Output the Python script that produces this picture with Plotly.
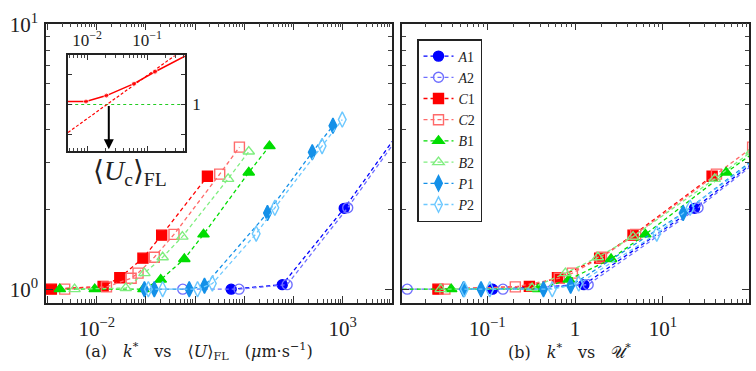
import plotly.graph_objects as go

# ---------------- data ----------------
# left panel x: <U>_FL (um/s); right panel x: U* ; y: k*
a1_u = [5.4, 59, 1070, 35500]
a1_us = [0.115, 1.26, 22.9, 759]
a1_k = [1.0, 1.04, 2.02, 5.0]

a2_u = [0.56, 7.8, 74, 1260, 40000]
a2_us = [0.0123, 0.151, 1.41, 25.1, 794]
a2_k = [1.0, 1.0, 1.04, 2.03, 5.0]

c1_u = [0.0012, 0.0135, 0.0295, 0.087, 0.209, 1.78]
c1_us = [0.0275, 0.302, 0.631, 1.905, 4.57, 36.3]
c1_k = [1.0, 1.025, 1.105, 1.31, 1.60, 2.67]

c2_u = [0.00224, 0.0158, 0.0501, 0.0692, 0.148, 0.372, 3.16, 7.94]
c2_us = [0.033, 0.209, 0.661, 0.933, 2.0, 4.9, 40.7, 105]
c2_k = [1.0, 1.02, 1.10, 1.15, 1.32, 1.61, 2.72, 3.44]

b1_u = [0.00178, 0.00912, 0.0891, 0.2, 0.603, 1.48, 12.3, 32.4]
b1_us = [0.00759, 0.0389, 0.38, 0.851, 2.57, 6.31, 52.5, 138]
b1_k = [1.0, 1.0, 1.0, 1.087, 1.30, 1.61, 2.76, 3.47]

b2_u = [0.00355, 0.0389, 0.0933, 0.219, 0.55, 4.68, 12.3]
b2_us = [0.0295, 0.324, 0.776, 1.82, 4.57, 38.9, 102]
b2_k = [1.0, 1.01, 1.15, 1.32, 1.58, 2.61, 3.31]

p1_u = [0.0933, 0.148, 0.759, 1.55, 29.5, 240, 631]
p1_us = [0.0537, 0.0851, 0.437, 0.891, 17.0, 138, 363]
p1_k = [1.0, 1.0, 1.0, 1.03, 1.94, 3.29, 4.14]

p2_u = [0.112, 0.219, 1.12, 2.24, 17.4, 41.7, 380, 977]
p2_us = [0.055, 0.107, 0.55, 1.10, 8.51, 20.4, 186, 479]
p2_k = [1.0, 1.0, 1.0, 1.05, 1.62, 2.03, 3.47, 4.37]

# inset
inset_u = [0.00316, 0.00955, 0.0209, 0.0603, 0.135, 0.631]
inset_k = [1.01, 1.01, 1.03, 1.07, 1.11, 1.18]
inset_fit_u = [0.00479, 0.427]
inset_fit_k = [0.906, 1.189]
inset_ref_u = [0.001, 1.0]
inset_ref_k = [1.0, 1.0]

names = ["A1", "A2", "C1", "C2", "B1", "B2", "P1", "P2"]
labels = ["<i>A</i>1", "<i>A</i>2", "<i>C</i>1", "<i>C</i>2",
          "<i>B</i>1", "<i>B</i>2", "<i>P</i>1", "<i>P</i>2"]
colors = ["#0000ff", "#6f6fff", "#ff0000", "#ff6a6a",
          "#00dd00", "#7fee7f", "#1490e8", "#6cc8ff"]
symbols = ["circle", "circle-open", "square", "square-open",
           "triangle-up", "triangle-up-open", "diamond-tall", "diamond-tall-open"]
sizes = [10, 10, 10, 10, 10, 10, 11, 11]
xs_left = [a1_u, a2_u, c1_u, c2_u, b1_u, b2_u, p1_u, p2_u]
xs_right = [a1_us, a2_us, c1_us, c2_us, b1_us, b2_us, p1_us, p2_us]
ks = [a1_k, a2_k, c1_k, c2_k, b1_k, b2_k, p1_k, p2_k]

fig = go.Figure()
for i in range(len(names)):
    line = dict(color=colors[i], width=1.3, dash="4px,3px")
    mk = dict(symbol=symbols[i], size=sizes[i], color=colors[i],
              line=dict(color=colors[i], width=1.4))
    fig.add_trace(go.Scatter(x=xs_left[i], y=ks[i], mode="lines+markers",
                             name=labels[i], legendgroup=names[i],
                             line=line, marker=mk, xaxis="x", yaxis="y"))
    fig.add_trace(go.Scatter(x=xs_right[i], y=ks[i], mode="lines+markers",
                             name=labels[i], legendgroup=names[i], showlegend=False,
                             line=line, marker=mk, xaxis="x2", yaxis="y2"))

# inset traces
fig.add_trace(go.Scatter(x=inset_ref_u, y=inset_ref_k, mode="lines", showlegend=False,
                         line=dict(color="#22cc22", width=1.2, dash="dot"),
                         xaxis="x3", yaxis="y3"))
fig.add_trace(go.Scatter(x=inset_fit_u, y=inset_fit_k, mode="lines", showlegend=False,
                         line=dict(color="#ff0000", width=1.2, dash="3px,2px"),
                         xaxis="x3", yaxis="y3"))
fig.add_trace(go.Scatter(x=inset_u, y=inset_k, mode="lines+markers", showlegend=False,
                         line=dict(color="#ff0000", width=1.5),
                         marker=dict(color="#ff0000", size=[0, 5, 5, 5, 5, 0]),
                         xaxis="x3", yaxis="y3"))

W, H = 756, 371
def px_x(a, b):
    return [a / W, b / W]
def px_y(top, bottom):
    return [1 - bottom / H, 1 - top / H]

def minor_vals(lo, hi):
    return [m * 10.0 ** e for e in range(lo, hi) for m in range(2, 10)]

SERIF = "Liberation Serif, DejaVu Serif, serif"
frame = dict(showline=True, linecolor="#222", linewidth=1.5, mirror="ticks",
             ticks="inside", ticklen=7, tickwidth=1, tickcolor="#333",
             showgrid=False, zeroline=False)
tfont = dict(family=SERIF, size=21, color="#222")
ifont = dict(family=SERIF, size=17, color="#222")
minor = lambda vals, ln=4: dict(ticks="inside", ticklen=ln, tickwidth=1,
                                tickcolor="#444", tickvals=vals, showgrid=False)

fig.update_layout(
    width=W, height=H, margin=dict(l=0, r=0, t=0, b=0),
    paper_bgcolor="white", plot_bgcolor="white",
    xaxis=dict(type="log", domain=px_x(46, 392), range=[-3.03, 4.0], anchor="y",
               tickvals=[1e-3, 1e-2, 1e-1, 1, 10, 100, 1e3, 1e4],
               ticktext=["", "10<sup>−2</sup>", "", "", "", "", "10<sup>3</sup>", ""],
               tickfont=tfont, ticklabelstandoff=6, minor=minor(minor_vals(-4, 5)), **frame),
    yaxis=dict(type="log", domain=px_y(10, 300), range=[-0.051, 1.003], anchor="x",
               tickvals=[1, 10], ticktext=["10<sup>0</sup>", "10<sup>1</sup>"],
               tickfont=tfont, ticklabelstandoff=2, ticklabeloverflow="allow",
               minor=minor(minor_vals(0, 1)), **frame),
    xaxis2=dict(type="log", domain=px_x(402, 749), range=[-1.97, 1.98], anchor="y2",
                tickvals=[1e-2, 1e-1, 1, 10, 100],
                ticktext=["", "10<sup>−1</sup>", "1", "10<sup>1</sup>", ""],
                tickfont=tfont, ticklabelstandoff=6, minor=minor(minor_vals(-3, 3)), **frame),
    yaxis2=dict(type="log", domain=px_y(10, 300), range=[-0.051, 1.003], anchor="x2",
                tickvals=[1, 10], showticklabels=False,
                minor=minor(minor_vals(0, 1)), **frame),
    xaxis3=dict(type="log", domain=px_x(68, 185), range=[-2.32, -0.37], anchor="y3",
                side="top", tickvals=[1e-2, 1e-1],
                ticktext=["10<sup>−2</sup>", "10<sup>−1</sup>"],
                tickfont=ifont, ticklabelstandoff=1,
                minor=minor(minor_vals(-3, 0), 3), **{**frame, "ticklen": 5}),
    yaxis3=dict(type="linear", domain=px_y(43, 142), range=[0.845, 1.165], anchor="x3",
                side="right", tickvals=[0.9, 1.0, 1.1], ticktext=["", "1", ""],
                tickfont=ifont, ticklabelstandoff=2,
                **{**frame, "ticklen": 4}),
    legend=dict(x=417 / W, y=1 - 26 / H, xanchor="left", yanchor="top",
                bgcolor="white", bordercolor="#222", borderwidth=1.5,
                font=dict(family=SERIF, size=14, color="#222"),
                itemwidth=30, tracegroupgap=0),
    annotations=[
        dict(text="(a)\u2003<i>k</i><sup>*</sup>\u2003vs\u2003⟨<i>U</i>⟩<sub>FL</sub>\u2003(<i>μ</i>m·s<sup>−1</sup>)",
             xref="paper", yref="paper", x=199 / W, y=1 - 351 / H,
             xanchor="center", yanchor="middle", showarrow=False,
             font=dict(family="DejaVu Serif, serif", size=16, color="#222")),
        dict(text="(b)\u2003<i>k</i><sup>*</sup>\u2003vs\u2003𝒰<sup>*</sup>",
             xref="paper", yref="paper", x=569 / W, y=1 - 351 / H,
             xanchor="center", yanchor="middle", showarrow=False,
             font=dict(family="DejaVu Serif, serif", size=16, color="#222")),
        dict(text="⟨<i>U</i><sub>c</sub>⟩<sub>FL</sub>",
             xref="paper", yref="paper", x=130 / W, y=1 - 165 / H,
             xanchor="center", yanchor="middle", showarrow=False,
             font=dict(family=SERIF, size=28, color="#222")),
        dict(x=-1.64, y=0.85, xref="x3", yref="y3", ax=-1.64, ay=1.0,
             axref="x3", ayref="y3", showarrow=True, arrowhead=2, arrowsize=1,
             arrowwidth=2, arrowcolor="#000", text=""),
    ],
)

fig.write_html("out.html")
